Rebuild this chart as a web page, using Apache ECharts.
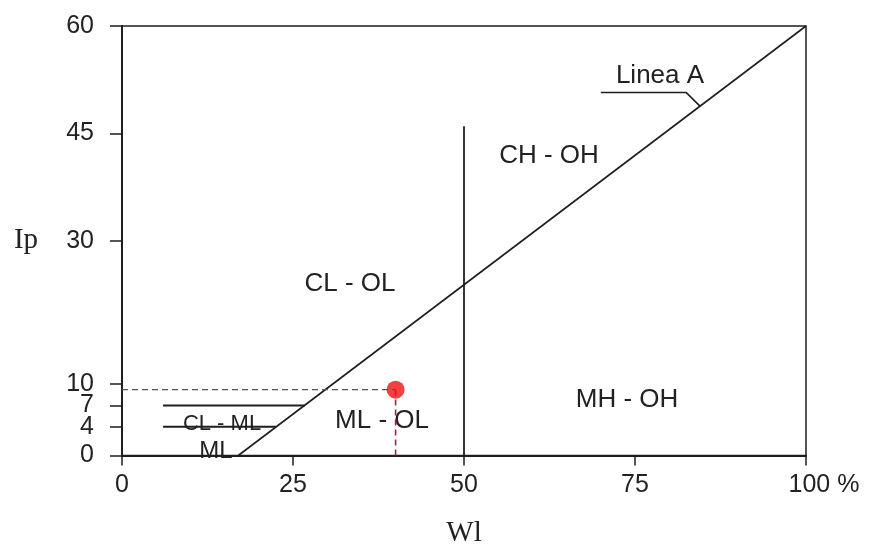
<!DOCTYPE html>
<html>
<head>
<meta charset="utf-8">
<script src="https://cdn.jsdelivr.net/npm/echarts@6/dist/echarts.min.js"></script>
<style>html,body{margin:0;padding:0;background:#fff}#c{width:869px;height:553px}</style>
</head>
<body>
<div id="c"></div>
<script>
// ---- data ----
const wlTicks = [0, 25, 50, 75, 100];
const ipTicks = [0, 4, 7, 10, 30, 45, 60];
const lineaA_wl = [17, 100];
const lineaA_ip = [0, 60];
const divider_wl = [50, 50];
const divider_ip = [0, 46];
const clmlUpper_wl = [6, 26.7];
const clmlUpper_ip = [7, 7];
const clmlLower_wl = [6, 22.5];
const clmlLower_ip = [4, 4];
const leader_wl = [70, 82.5, 84.5];
const leader_ip = [50.7, 50.7, 48.8];
const sample_wl = [40];
const sample_ip = [9.2];
const zoneLabels = ['Linea A', 'CH - OH', 'CL - OL', 'MH - OH', 'ML - OL', 'CL - ML', 'ML'];

const pairs = (xs, ys) => xs.map((x, i) => [x, ys[i]]);
const ink = '#1e1e1e';
const sans = '"Liberation Sans", Arial, sans-serif';
const serif = '"Liberation Serif", "Times New Roman", serif';

const chart = echarts.init(document.getElementById('c'));
const lineSeries = (xs, ys, extra) => Object.assign({
  type: 'line', data: pairs(xs, ys), symbol: 'none', silent: true,
  lineStyle: { color: ink, width: 1.6 }, animation: false
}, extra || {});

const label = (s, x, y, size) => ({
  type: 'text', x: x, y: y,
  style: { text: s, font: (size || 26) + 'px ' + sans, fill: '#222', align: 'center', verticalAlign: 'middle' }
});

chart.setOption({
  animation: false,
  grid: { left: 122, right: 63, top: 26, bottom: 89, show: true, borderColor: ink, borderWidth: 1.5, backgroundColor: 'transparent' },
  xAxis: {
    type: 'value', min: 0, max: 100, interval: 25,
    name: 'Wl', nameLocation: 'middle', nameGap: 78,
    nameTextStyle: { fontFamily: serif, fontSize: 29, color: '#222', verticalAlign: 'middle' },
    axisLine: { lineStyle: { color: ink, width: 2 } },
    axisTick: { show: true, length: 10, lineStyle: { color: ink, width: 1.5 } },
    splitLine: { show: false },
    axisLabel: {
      margin: 17, fontFamily: sans, fontSize: 25, color: '#222',
      customValues: wlTicks,
      formatter: v => v === 100 ? '{p|100 %}' : String(v),
      rich: { p: { fontFamily: sans, fontSize: 25, color: '#222', padding: [0, 0, 0, 36] } }
    }
  },
  yAxis: {
    type: 'value', min: 0, max: 60,
    name: 'Ip', nameLocation: 'middle', nameGap: 96, nameRotate: 0,
    nameTextStyle: { fontFamily: serif, fontSize: 29, color: '#222', align: 'center', verticalAlign: 'middle' },
    axisLine: { show: true, lineStyle: { color: ink, width: 2 } },
    axisTick: { show: true, length: 12, customValues: ipTicks, lineStyle: { color: ink, width: 1.5 } },
    splitLine: { show: false },
    axisLabel: { margin: 28, fontFamily: sans, fontSize: 25, color: '#222', customValues: ipTicks }
  },
  series: [
    lineSeries(lineaA_wl, lineaA_ip),
    lineSeries(divider_wl, divider_ip, { lineStyle: { color: ink, width: 1.8 } }),
    lineSeries(clmlUpper_wl, clmlUpper_ip, { lineStyle: { color: ink, width: 2 } }),
    lineSeries(clmlLower_wl, clmlLower_ip, { lineStyle: { color: ink, width: 2 } }),
    lineSeries(leader_wl, leader_ip, { lineStyle: { color: ink, width: 1.6 } }),
    lineSeries([0, sample_wl[0]], [sample_ip[0], sample_ip[0]], { lineStyle: { color: '#555', width: 1.2, type: [6, 4] } }),
    lineSeries([sample_wl[0], sample_wl[0]], [0, sample_ip[0]], { lineStyle: { color: '#a02050', width: 1.6, type: [6, 4] } }),
    {
      type: 'scatter', data: pairs(sample_wl, sample_ip), symbolSize: 18, silent: true,
      itemStyle: { color: '#ee1111' }, z: 5
    }
  ],
  graphic: [
    label(zoneLabels[0], 660, 76),
    label(zoneLabels[1], 549, 156),
    label(zoneLabels[2], 350, 284),
    label(zoneLabels[3], 627, 400),
    label(zoneLabels[4], 382, 421),
    label(zoneLabels[5], 222, 424, 22),
    label(zoneLabels[6], 216, 451, 24)
  ]
});
</script>
</body>
</html>
